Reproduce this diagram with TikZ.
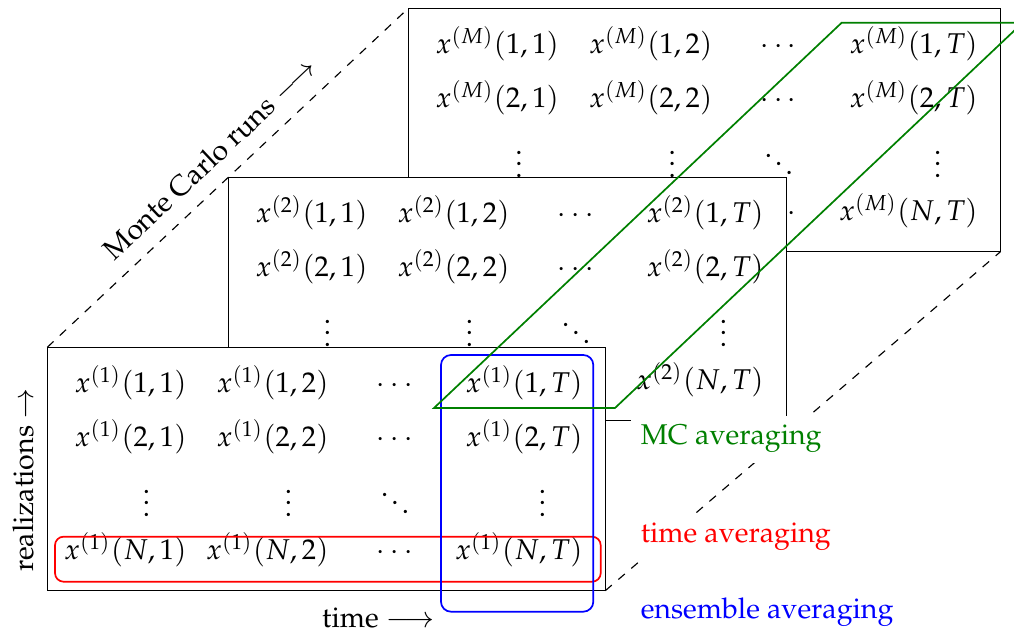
\documentclass[tikz,border=0pt]{standalone}
\usepackage[T1]{fontenc}
\usepackage{mathpazo}
\usetikzlibrary{positioning}

\colorlet{mcgreen}{green!50!black}

\tikzset{
  runbox/.style={draw, fill=white, inner sep=0pt, outer sep=0pt, anchor=north west},
  cell/.style={inner sep=0pt, anchor=mid east},
  dotcell/.style={inner sep=0pt, anchor=base},
  avglabel/.style={fill=white, anchor=base west},
}

% one Monte Carlo run: name, run index, extra width of each column
\newcommand{\mcrun}[3]{%
  \node[runbox, minimum width={(558+3*#3)*0.35pt}, minimum height={243.4*0.35pt}] (#1) at (0,0) {};
  \foreach \r/\ry in {1/39,2/92.5,N/205.5}{
    \foreach \c/\cx/\k in {1/139.7/1,2/281.7/2,T/535.7/3}
      \node[cell] (#1-\r-\c) at ({\cx+\k*#3},\ry) {$x^{(#2)}(\r,\c)$};
    \node[dotcell, anchor=mid] (#1-\r-dots) at ({347.2+2*#3},\ry) {$\cdots$};
  }
  \foreach \c/\cx/\k in {1/139.7/1,2/281.7/2,T/535.7/3}
    \node[dotcell] (#1-v-\c) at ({\cx-40.5+\k*#3},169) {$\vdots$};
  \node[dotcell] (#1-v-dots) at ({347.7+2*#3},169) {$\ddots$};
}

\begin{document}
\begin{tikzpicture}[x=0.35pt, y=-0.35pt]
  \useasboundingbox (0,0) rectangle (1014,634);
  % runs, back to front
  \begin{scope}[shift={(408.3,8.3)}]
    \mcrun{runM}{M}{11.4}
  \end{scope}
  \begin{scope}[shift={(228.3,177.3)}]
    \mcrun{run2}{2}{0}
  \end{scope}
  \begin{scope}[shift={(47.3,347.3)}]
    \mcrun{run1}{1}{0}
  \end{scope}
  % depth edges
  \draw[dashed] (run1.north west) -- node[sloped, above=2pt] (mclabel) {Monte Carlo runs $\longrightarrow$} (runM.north west);
  \draw[dashed] (run1.south east) -- (runM.south east);
  % axes
  \node[rotate=90] (reallabel) at (23,480) {realizations $\rightarrow$};
  \node[anchor=base] (timelabel) at (378.5,628) {time $\longrightarrow$};
  % averaging
  \draw[red, semithick, rounded corners=3pt] (55,536.7) rectangle (600.7,581.7);
  \draw[blue, semithick, rounded corners=3.5pt] (441,355) rectangle (593.3,611.7);
  \draw[mcgreen, semithick] (434,408) -- (615,408) -- (1022.7,22.7) -- (841.7,22.7) -- cycle;
  \node[avglabel, text=mcgreen] (mcavg) at (630.7,445) {MC averaging};
  \node[avglabel, text=red] (timeavg) at (630.7,542.3) {time averaging};
  \node[avglabel, text=blue] (ensavg) at (630.7,618.3) {ensemble averaging};
\end{tikzpicture}
\end{document}
